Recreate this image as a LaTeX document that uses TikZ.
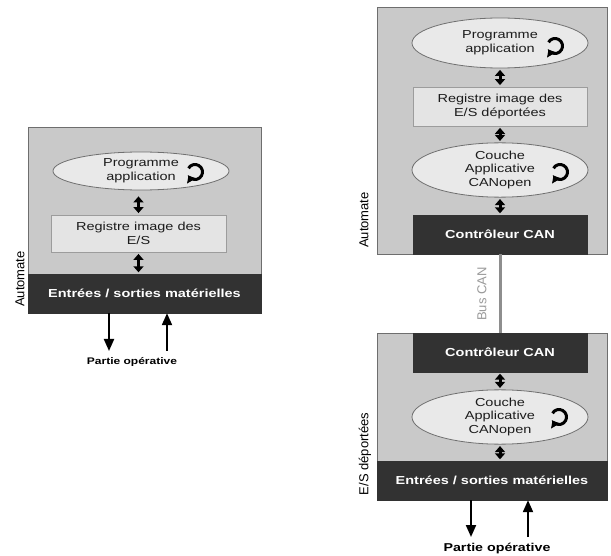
\documentclass[tikz,border=0pt]{standalone}
\usepackage{fontspec}
\setmainfont{Liberation Sans}[FakeStretch=1.25]
\newfontfamily\sidefont{Liberation Sans}
\usetikzlibrary{shapes.geometric,arrows.meta}
\definecolor{panelgray}{HTML}{C9C9C9}
\definecolor{panelline}{HTML}{6E6E6E}
\definecolor{bubblefill}{HTML}{E9E9E9}
\definecolor{bubbleline}{HTML}{707070}
\definecolor{regfill}{HTML}{E4E4E4}
\definecolor{regline}{HTML}{9C9C9C}
\definecolor{darkfill}{HTML}{323232}
\definecolor{softtext}{HTML}{1C1C1C}
\definecolor{buscol}{HTML}{8E8E8E}
\definecolor{buslabel}{HTML}{9A9A9A}
\begin{document}
\begin{tikzpicture}[x=1pt,y=-1pt,
  panel/.style={rectangle, draw=panelline, fill=panelgray, line width=0.8pt, inner sep=0pt},
  bubble/.style={ellipse, draw=bubbleline, fill=bubblefill, line width=0.8pt, inner sep=0pt,
    text=softtext, align=center, font=\fontsize{11.6}{13.8}\selectfont},
  regbox/.style={rectangle, draw=regline, fill=regfill, line width=0.8pt, inner sep=0pt,
    text=softtext, align=center, font=\fontsize{11.6}{13.8}\selectfont},
  darkbar/.style={rectangle, draw=darkfill, fill=darkfill, inner sep=0pt, text=white,
    font=\fontsize{11.6}{13.8}\selectfont\bfseries},
  sidelabel/.style={rotate=90, inner sep=0pt, font=\sidefont\fontsize{13}{15}\selectfont},
  dbl/.style={line width=3pt, {Triangle[width=10pt,length=6pt]}-{Triangle[width=10pt,length=6pt]},
    shorten <=1.5pt, shorten >=1.5pt},
  flow/.style={line width=2pt, -{Triangle[width=10pt,length=12pt]}},
  spin/.style={line width=3pt, -{Triangle[width=10pt,length=6pt]}},
  bus/.style={draw=buscol, line width=3pt},
  outlabel/.style={inner sep=0pt, font=\bfseries}]
\useasboundingbox (0,0) rectangle (611,556);

% ---------- single controller with local I/O ----------
\node[panel, minimum width=233, minimum height=186] (autoL) at (144.5,220) {};
\node[bubble, minimum width=176, minimum height=38] (progL) at (141,171) {Programme\\application};
\node[regbox, minimum width=175, minimum height=37] (regL) at (138.5,233.5) {Registre image des\\E/S};
\node[darkbar, minimum width=233, minimum height=39] (ioL) at (144.5,293.5) {Entrées / sorties matérielles};
\node[sidelabel] (labL) at (20,279) {Automate};
\coordinate (spinL) at (195,172);
\draw[spin] (spinL) ++(-150:7.5) arc[start angle=-150, end angle=150, radius=7.5];

\draw[dbl, shorten >=6pt] (regL.north) -- (regL.north |- progL.south);
\draw[dbl] (regL.south) -- (regL.south |- ioL.north);

\node[outlabel, font=\fontsize{9.6}{11}\selectfont\bfseries] (poL) at (132,362) {Partie opérative};
\coordinate (dnL) at (109,351);
\coordinate (upL) at (167,351);
\draw[flow] (ioL.south -| dnL) -- (dnL);
\draw[flow] (upL) -- (ioL.south -| upL);

% ---------- controller on the CAN bus ----------
\node[panel, minimum width=230, minimum height=247] (autoR) at (492,130.5) {};
\node[bubble, minimum width=176, minimum height=50] (progR) at (500,43) {Programme\\application};
\node[regbox, minimum width=174, minimum height=39] (regR) at (500,106.5) {Registre image des\\E/S déportées};
\node[bubble, minimum width=176, minimum height=46] (canR) at (500,170) {Couche\\Applicative\\CANopen};
\node[darkbar, minimum width=174, minimum height=39] (ctrlR) at (500,234.5) {Contrôleur CAN};
\node[sidelabel] (labR) at (364,220) {Automate};
\coordinate (spinPR) at (555,46);
\coordinate (spinCR) at (560,172);
\draw[spin] (spinPR) ++(-150:7.5) arc[start angle=-150, end angle=150, radius=7.5];
\draw[spin] (spinCR) ++(-150:7.5) arc[start angle=-150, end angle=150, radius=7.5];

\draw[dbl] (regR.north) -- (progR.south);
\draw[dbl] (regR.south) -- (canR.north);
\draw[dbl] (canR.south) -- (ctrlR.north);

% ---------- remote I/O station ----------
\node[panel, minimum width=230, minimum height=167] (esS) at (492,416.5) {};
\node[darkbar, minimum width=174, minimum height=39] (ctrlS) at (500,352.5) {Contrôleur CAN};
\node[bubble, minimum width=176, minimum height=50] (canS) at (500,417) {Couche\\Applicative\\CANopen};
\node[darkbar, minimum width=230, minimum height=39] (ioS) at (492,480.5) {Entrées / sorties matérielles};
\node[sidelabel] (labS) at (365,454) {E/S déportées};
\coordinate (spinCS) at (559,417);
\draw[spin] (spinCS) ++(-150:7.5) arc[start angle=-150, end angle=150, radius=7.5];

\draw[dbl] (ctrlS.south) -- (canS.north);
\draw[dbl] (canS.south) -- (canS.south |- ioS.north);

\node[outlabel, font=\fontsize{11.4}{13}\selectfont\bfseries] (poS) at (497,549) {Partie opérative};
\coordinate (dnS) at (471,537);
\coordinate (upS) at (528,537);
\draw[flow] (ioS.south -| dnS) -- (dnS);
\draw[flow] (upS) -- (ioS.south -| upS);

% ---------- CAN bus ----------
\draw[bus] (ctrlR.south) -- (ctrlS.north);
\node[sidelabel, text=buslabel] (busL) at (482,294) {Bus CAN};
\end{tikzpicture}
\end{document}
